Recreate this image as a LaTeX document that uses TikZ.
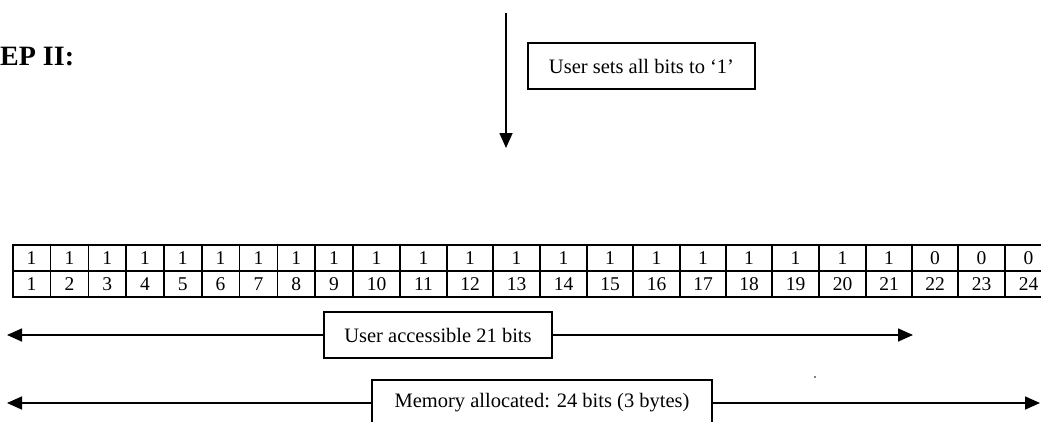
\documentclass[tikz,border=0pt]{standalone}
\usepackage{fontspec}
\setmainfont{Liberation Serif}
\usetikzlibrary{arrows.meta}
\begin{document}
\begin{tikzpicture}[x=1pt,y=-1pt,
  box/.style={draw,line width=1.6pt,inner sep=0pt,font=\fontsize{20.5}{24}\selectfont},
  cell/.style={draw,line width=1.6pt,inner sep=0pt,minimum height=26pt,font=\fontsize{19.5}{22}\selectfont},
  arr/.style={line width=1.6pt,-{Triangle[length=15pt,width=13pt]}}]
\useasboundingbox (0,0) rectangle (1041,421);
% heading (cut at the left edge in the reference)
\node[anchor=base west,inner sep=0pt,font=\fontsize{28}{30}\selectfont\bfseries] (title) at (0,65) {EP II:};
% top arrow and its label
\coordinate (dtop) at (506,13);
\coordinate (dbot) at (506,148);
\draw[arr] (dtop) -- (dbot);
\node[box,minimum width=227pt,minimum height=46pt] (setall) at (641.5,66) {User sets all bits to ‘1’};
% bit table
\foreach \n/\l/\r/\v in {1/12.7/50.5/1,2/50.5/88.3/1,3/88.3/126.1/1,4/126.1/163.9/1,5/163.9/201.7/1,6/201.7/239.5/1,7/239.5/277.3/1,8/277.3/315.1/1,9/315.1/353/1,10/353/400/1,11/400/447/1,12/447/493/1,13/493/540/1,14/540/587/1,15/587/633/1,16/633/680/1,17/680/726/1,18/726/772/1,19/772/819/1,20/819/866/1,21/866/912/1,22/912/958/0,23/958/1005/0,24/1005/1052/0}{
  \node[cell,minimum width={(\r-\l)*1pt}] (t\n) at ({(\l+\r)/2},258) {\v};
  \node[cell,minimum width={(\r-\l)*1pt}] (b\n) at ({(\l+\r)/2},284) {\n};
}
% user accessible
\node[box,fill=white,minimum width=228pt,minimum height=46pt] (ua) at (438,335) {User accessible 21 bits};
\coordinate (ual) at (7,335);
\coordinate (uar) at (913,335);
\draw[arr] (ua.west) -- (ual);
\draw[arr] (ua.east) -- (uar);
% memory allocated
\node[box,fill=white,minimum width=340pt,minimum height=46pt] (ma) at (542,403) {Memory allocated: 24 bits (3 bytes)};
\coordinate (mal) at (7,403);
\coordinate (mar) at (1040,403);
\draw[arr] (ma.west) -- (mal);
\draw[arr] (ma.east) -- (mar);
% stray dot
\fill (815,377) circle (0.9pt);
\end{tikzpicture}
\end{document}
